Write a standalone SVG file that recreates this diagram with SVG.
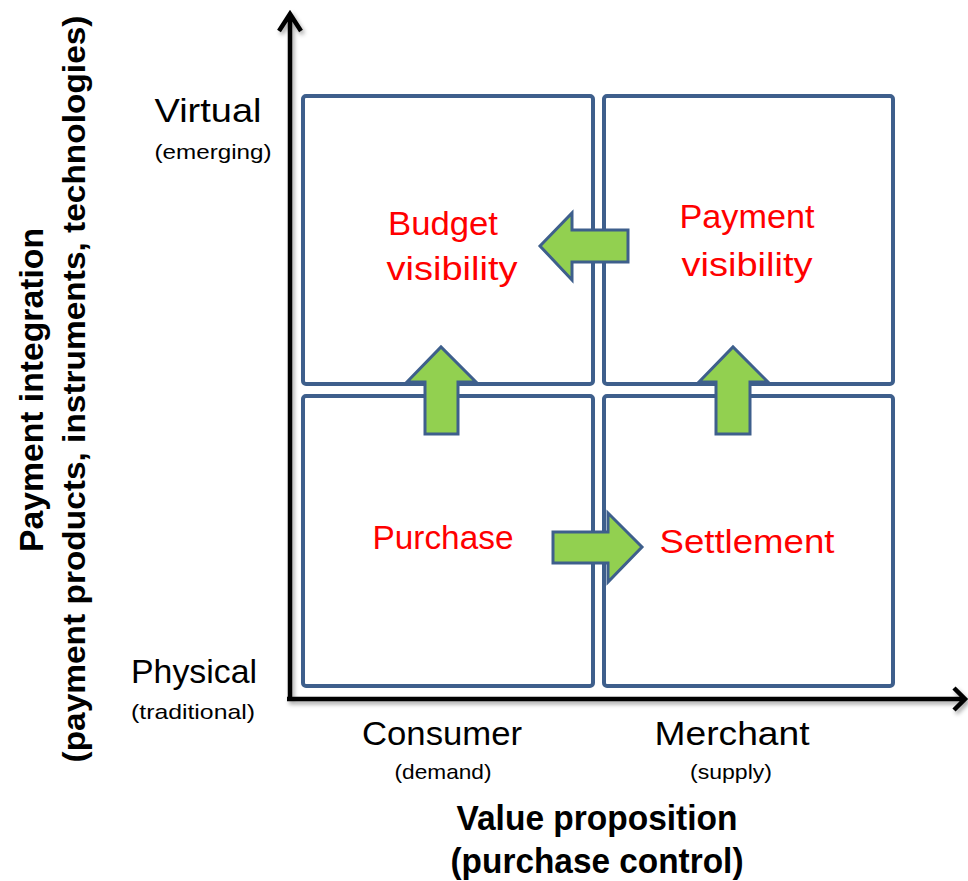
<svg xmlns="http://www.w3.org/2000/svg" width="968" height="881" viewBox="0 0 968 881">
<defs>
<filter id="sh" x="-5%" y="-5%" width="110%" height="110%">
<feDropShadow dx="2" dy="3" stdDeviation="2" flood-color="#000" flood-opacity="0.35"/>
</filter>
<style>
.box{fill:#fff;stroke:#3E5F8C;stroke-width:4}
.arr{fill:#92D050;stroke:#3E5F8C;stroke-width:3;stroke-linejoin:miter}
.axis{fill:none;stroke:#000;stroke-width:4.5}
.t{font-family:"Liberation Sans",Arial,sans-serif;fill:#000;text-anchor:middle}
.big{font-size:34px}
.sm{font-size:21px}
.red{fill:#FF0000;font-size:34px}
.b{font-weight:bold}
</style>
</defs>
<rect width="968" height="881" fill="#fff"/>
<g id="axes" filter="url(#sh)">
<path class="axis" d="M290,700 V14 M279,31 L290,14 L301,31"/>
<path class="axis" d="M287,699 H964 M954,688 L965,699 L954,710"/>
</g>
<g id="q-tl"><rect class="box" x="303" y="96" width="290" height="288" rx="3"/>
<text class="t red" x="443" y="235" textLength="110" lengthAdjust="spacingAndGlyphs">Budget</text>
<text class="t red" x="452" y="280" textLength="131" lengthAdjust="spacingAndGlyphs">visibility</text></g>
<g id="q-tr"><rect class="box" x="604" y="96" width="289" height="288" rx="3"/>
<text class="t red" x="747" y="228" textLength="135" lengthAdjust="spacingAndGlyphs">Payment</text>
<text class="t red" x="747" y="276" textLength="131" lengthAdjust="spacingAndGlyphs">visibility</text></g>
<g id="q-bl"><rect class="box" x="303" y="396" width="290" height="290" rx="3"/>
<text class="t red" x="443" y="549" textLength="141" lengthAdjust="spacingAndGlyphs">Purchase</text></g>
<g id="q-br"><rect class="box" x="604" y="396" width="289" height="290" rx="3"/>
<text class="t red" x="747" y="553" textLength="175" lengthAdjust="spacingAndGlyphs">Settlement</text></g>
<g id="connectors">
<polygon class="arr" points="628,230 572,230 572,213 540,246 572,280 572,262 628,262"/>
<polygon class="arr" points="425,434 425,382 407,382 441,347 476,382 458,382 458,434"/>
<polygon class="arr" points="716,434 716,382 699,382 733,347 768,382 750,382 750,434"/>
<polygon class="arr" points="553,532 608,532 608,513 642,547 608,582 608,563 553,563"/>
</g>
<g id="labels">
<text class="t big" x="208" y="122" textLength="107" lengthAdjust="spacingAndGlyphs">Virtual</text>
<text class="t sm" x="213" y="159" textLength="117" lengthAdjust="spacingAndGlyphs">(emerging)</text>
<text class="t big" x="194" y="683" textLength="126" lengthAdjust="spacingAndGlyphs">Physical</text>
<text class="t sm" x="193" y="719" textLength="124" lengthAdjust="spacingAndGlyphs">(traditional)</text>
<text class="t big" x="442" y="745" textLength="160" lengthAdjust="spacingAndGlyphs">Consumer</text>
<text class="t sm" x="443" y="779" textLength="97" lengthAdjust="spacingAndGlyphs">(demand)</text>
<text class="t big" x="732" y="745" textLength="155" lengthAdjust="spacingAndGlyphs">Merchant</text>
<text class="t sm" x="731" y="779" textLength="82" lengthAdjust="spacingAndGlyphs">(supply)</text>
<text class="t b" font-size="35" x="597" y="830" textLength="281" lengthAdjust="spacingAndGlyphs">Value proposition</text>
<text class="t b" font-size="35" x="597" y="873" textLength="293" lengthAdjust="spacingAndGlyphs">(purchase control)</text>
<text class="t b" font-size="34" transform="translate(43,390) rotate(-90)" x="0" y="0" textLength="324" lengthAdjust="spacingAndGlyphs">Payment integration</text>
<text class="t b" font-size="32" transform="translate(85,389) rotate(-90)" x="0" y="0" textLength="747" lengthAdjust="spacingAndGlyphs">(payment products, instruments, technologies)</text>
</g>
</svg>
